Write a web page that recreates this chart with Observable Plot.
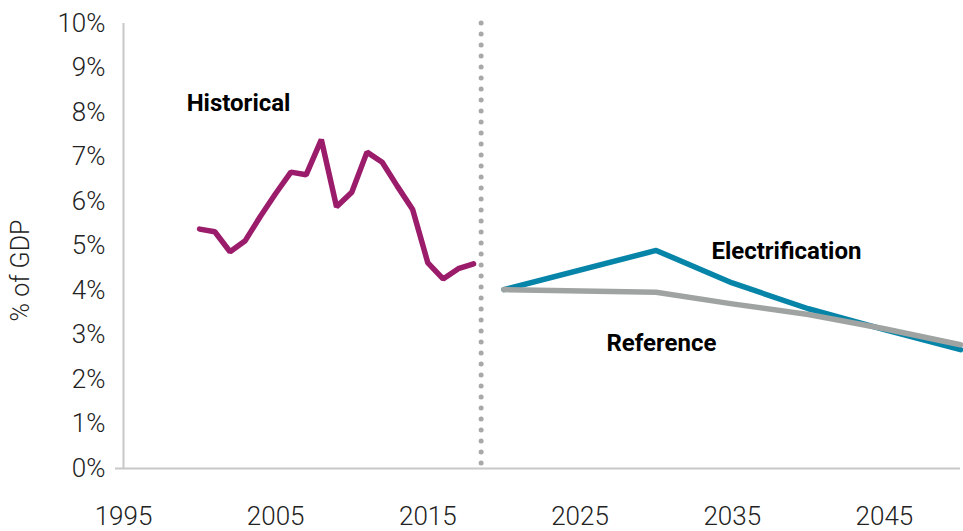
<!DOCTYPE html>
<html>
<head>
<meta charset="utf-8">
<script src="https://cdn.jsdelivr.net/npm/d3@7"></script>
<script src="https://cdn.jsdelivr.net/npm/@observablehq/plot@0.6"></script>
<style>
  html, body { margin: 0; padding: 0; background: #fff; }
  #chart svg { display: block; font-family: Roboto, "Noto Sans", sans-serif; }
</style>
</head>
<body>
<div id="chart"></div>
<script>
// Historical series (% of GDP)
const histYears = [2000, 2001, 2002, 2003, 2004, 2005, 2006, 2007, 2008, 2009, 2010, 2011, 2012, 2013, 2014, 2015, 2016, 2017, 2018];
const histValues = [5.38, 5.32, 4.87, 5.12, 5.67, 6.18, 6.66, 6.60, 7.39, 5.88, 6.21, 7.11, 6.88, 6.34, 5.82, 4.62, 4.26, 4.49, 4.60];

// Projections
const projYears = [2020, 2030, 2035, 2040, 2045, 2050];
const electrificationValues = [4.02, 4.90, 4.17, 3.59, 3.12, 2.67];
const referenceValues = [4.02, 3.96, 3.70, 3.46, 3.14, 2.78];

// Axis ticks
const xTicks = [1995, 2005, 2015, 2025, 2035, 2045];
const yTicks = [0, 1, 2, 3, 4, 5, 6, 7, 8, 9, 10];
const divider = [2018.5];

const hist = histYears.map((year, i) => ({year, value: histValues[i]}));
const elec = projYears.map((year, i) => ({year, value: electrificationValues[i]}));
const ref = projYears.map((year, i) => ({year, value: referenceValues[i]}));

const axisColor = "#c8c8c8";

const chart = Plot.plot({
  width: 963,
  height: 531,
  marginTop: 23,
  marginBottom: 63,
  marginLeft: 123,
  marginRight: 3,
  style: {fontFamily: "Roboto, 'Noto Sans', sans-serif", background: "#fff"},
  x: {domain: [1995, 2050]},
  y: {domain: [0, 10]},
  marks: [
    Plot.axisY(yTicks, {
      tickSize: 0, tickPadding: 18,
      tickFormat: d => d + "%",
      label: null,
      fontSize: 26, fontWeight: 300, color: "#222"
    }),
    Plot.axisX(xTicks, {
      tickSize: 0, tickPadding: 38,
      tickFormat: d => String(d),
      label: null,
      fontSize: 26, fontWeight: 300, color: "#222"
    }),
    Plot.text(["% of GDP"], {x: 1995, y: 4.45, dx: -103, rotate: -90, text: d => d,
      fontSize: 25, fontWeight: 300, fill: "#222"}),
    Plot.ruleX([1995], {stroke: axisColor, strokeWidth: 2}),
    Plot.ruleY([0], {stroke: axisColor, strokeWidth: 2, insetLeft: -8}),
    Plot.ruleX(divider, {stroke: "#a8a8a8", strokeWidth: 5, strokeDasharray: "0 11", strokeLinecap: "round"}),
    Plot.line(hist, {x: "year", y: "value", stroke: "#9a1c6b", strokeWidth: 5.5, strokeLinejoin: "miter"}),
    Plot.line(elec, {x: "year", y: "value", stroke: "#0785a9", strokeWidth: 5.5}),
    Plot.line(ref, {x: "year", y: "value", stroke: "#9fa4a3", strokeWidth: 5.5}),
    Plot.text(["Historical"], {x: 2002.56, y: 8.2, text: d => d, fontSize: 24, fontWeight: 700, fill: "#000"}),
    Plot.text(["Electrification"], {x: 2038.56, y: 4.88, text: d => d, fontSize: 24, fontWeight: 700, fill: "#000"}),
    Plot.text(["Reference"], {x: 2030.35, y: 2.81, text: d => d, fontSize: 24, fontWeight: 700, fill: "#000"})
  ]
});
document.getElementById("chart").appendChild(chart);
</script>
</body>
</html>
